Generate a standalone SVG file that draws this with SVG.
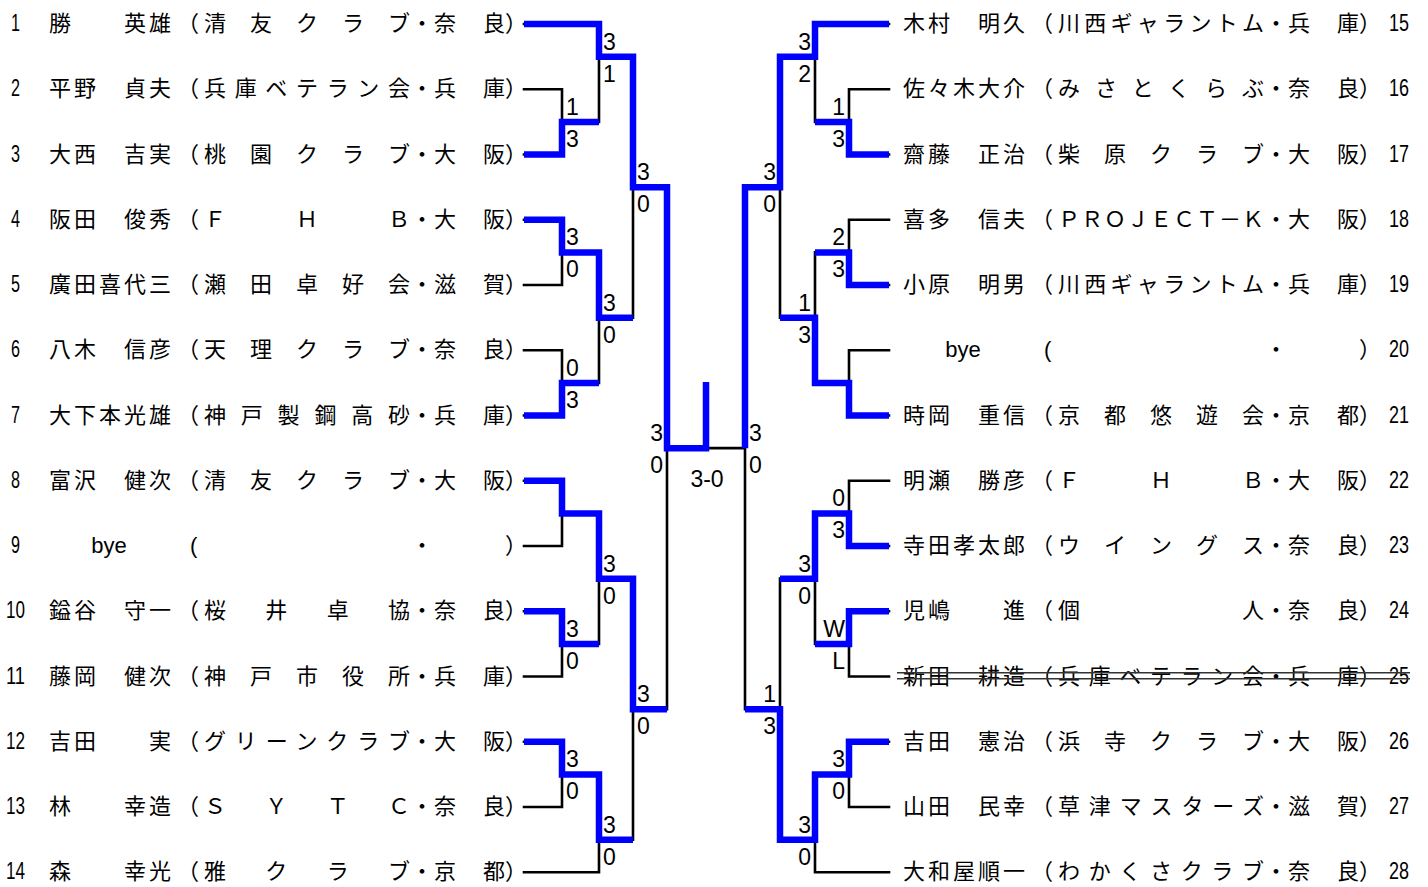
<svg xmlns="http://www.w3.org/2000/svg" width="1428" height="887" viewBox="0 0 1428 887">
<style>
.t{font-family:"Noto Sans CJK JP","Noto Sans CJK SC",sans-serif;font-size:22px;fill:#000}
.n{font-family:"Liberation Sans",Arial,sans-serif;font-size:24px;fill:#000}
.l{font-family:"Liberation Sans",Arial,sans-serif;font-size:22px;fill:#000}
.s{font-family:"Liberation Sans",Arial,sans-serif;font-size:23px;fill:#000}
.e{text-anchor:end}
.m{text-anchor:middle}
.bk{fill:none;stroke:#000;stroke-width:2.6;stroke-linecap:square}
.bl{fill:none;stroke:#0000ff;stroke-width:6.5;stroke-linejoin:miter}
.st{stroke:#333;stroke-width:1.4}
</style>
<rect width="1428" height="887" fill="#fff"/>
<g id="connectors">
<path class="bk" d="M524,24H599M524,89.25H562M524,154.5H562M524,219.75H562M524,285H562M524,350.25H562M524,415.5H562M524,480.75H562M524,546H562M524,611.25H562M524,676.5H562M524,741.75H562M524,807H562M524,872.25H599
M562,89.25V154.5M562,121.88H599M562,219.75V285M562,252.38H599M562,350.25V415.5M562,382.88H599M562,480.75V546M562,513.38H599M562,611.25V676.5M562,643.88H599M562,741.75V807M562,774.38H599
M599,24V121.88M599,56.63H633M599,252.38V382.88M599,317.63H633M599,513.38V643.88M599,578.63H633M599,774.38V872.25M599,839.63H633
M633,56.63V317.63M633,187.13H667M633,578.63V839.63M633,709.13H667
M667,187.13V709.13M667,448.13H745M745,187.13V709.13
M780,56.63V317.63M780,187.13H745M780,578.63V839.63M780,709.13H745
M815,24V121.88M815,56.63H780M815,252.38V382.88M815,317.63H780M815,513.38V643.88M815,578.63H780M815,774.38V872.25M815,839.63H780
M849,89.25V154.5M849,121.88H815M849,219.75V285M849,252.38H815M849,350.25V415.5M849,382.88H815M849,480.75V546M849,513.38H815M849,611.25V676.5M849,643.88H815M849,741.75V807M849,774.38H815
M889,24H815M889,89.25H849M889,154.5H849M889,219.75H849M889,285H849M889,350.25H849M889,415.5H849M889,480.75H849M889,546H849M889,611.25H849M889,676.5H849M889,741.75H849M889,807H849M889,872.25H815"/>
<path class="bl" d="M524,24H599V56.63H633V187.13H667V448.13H706V382"/>
<path class="bl" d="M524,154.5H562V121.88H599"/>
<path class="bl" d="M524,219.75H562V252.38H599V317.63H633"/>
<path class="bl" d="M524,415.5H562V382.88H599"/>
<path class="bl" d="M524,480.75H562V513.38H599V578.63H633V709.13H667"/>
<path class="bl" d="M524,611.25H562V643.88H599"/>
<path class="bl" d="M524,741.75H562V774.38H599V839.63H633"/>
<path class="bl" d="M889,24H815V56.63H780V187.13H745V448.13"/>
<path class="bl" d="M889,154.5H849V121.88H815"/>
<path class="bl" d="M889,285H849V252.38H815"/>
<path class="bl" d="M889,415.5H849V382.88H815V317.63H780"/>
<path class="bl" d="M889,546H849V513.38H815V578.63H780"/>
<path class="bl" d="M889,611.25H849V643.88H815"/>
<path class="bl" d="M889,741.75H849V774.38H815V839.63H780V709.13H745"/>
</g>
<g id="scores" class="s">
<text x="566" y="114.88">1</text><text x="566" y="146.88">3</text>
<text x="566" y="245.38">3</text><text x="566" y="277.38">0</text>
<text x="566" y="375.88">0</text><text x="566" y="407.88">3</text>
<text x="566" y="636.88">3</text><text x="566" y="668.88">0</text>
<text x="566" y="767.38">3</text><text x="566" y="799.38">0</text>
<text x="603" y="49.63">3</text><text x="603" y="81.63">1</text>
<text x="603" y="310.63">3</text><text x="603" y="342.63">0</text>
<text x="603" y="571.63">3</text><text x="603" y="603.63">0</text>
<text x="603" y="832.63">3</text><text x="603" y="864.63">0</text>
<text x="637" y="180.13">3</text><text x="637" y="212.13">0</text>
<text x="637" y="702.13">3</text><text x="637" y="734.13">0</text>
<text class="e" x="663" y="441.13">3</text><text class="e" x="663" y="473.13">0</text>
<text class="e" x="845" y="114.88">1</text><text class="e" x="845" y="146.88">3</text>
<text class="e" x="845" y="245.38">2</text><text class="e" x="845" y="277.38">3</text>
<text class="e" x="845" y="506.38">0</text><text class="e" x="845" y="538.38">3</text>
<text class="e" x="845" y="636.88">W</text><text class="e" x="845" y="668.88">L</text>
<text class="e" x="845" y="767.38">3</text><text class="e" x="845" y="799.38">0</text>
<text class="e" x="811" y="49.63">3</text><text class="e" x="811" y="81.63">2</text>
<text class="e" x="811" y="310.63">1</text><text class="e" x="811" y="342.63">3</text>
<text class="e" x="811" y="571.63">3</text><text class="e" x="811" y="603.63">0</text>
<text class="e" x="811" y="832.63">3</text><text class="e" x="811" y="864.63">0</text>
<text class="e" x="776" y="180.13">3</text><text class="e" x="776" y="212.13">0</text>
<text class="e" x="776" y="702.13">1</text><text class="e" x="776" y="734.13">3</text>
<text x="749" y="441.13">3</text><text x="749" y="473.13">0</text>
<text class="m" x="707" y="487">3-0</text>
</g>
<g id="p1"><text class="n m" x="15.5" y="31" textLength="9" lengthAdjust="spacingAndGlyphs">1</text><text class="t" x="49" y="31" textLength="122">勝　　英雄</text><text class="t" x="177" y="31">（</text><text class="t" x="204" y="31" textLength="206">清友クラブ</text><text class="t" x="411" y="31">・</text><text class="t" x="434" y="31" textLength="71">奈良</text><text class="t" x="505" y="31">）</text></g>
<g id="p2"><text class="n m" x="15.5" y="96.25" textLength="9" lengthAdjust="spacingAndGlyphs">2</text><text class="t" x="49" y="96.25" textLength="122">平野　貞夫</text><text class="t" x="177" y="96.25">（</text><text class="t" x="204" y="96.25" textLength="206">兵庫ベテラン会</text><text class="t" x="411" y="96.25">・</text><text class="t" x="434" y="96.25" textLength="71">兵庫</text><text class="t" x="505" y="96.25">）</text></g>
<g id="p3"><text class="n m" x="15.5" y="161.5" textLength="9" lengthAdjust="spacingAndGlyphs">3</text><text class="t" x="49" y="161.5" textLength="122">大西　吉実</text><text class="t" x="177" y="161.5">（</text><text class="t" x="204" y="161.5" textLength="206">桃園クラブ</text><text class="t" x="411" y="161.5">・</text><text class="t" x="434" y="161.5" textLength="71">大阪</text><text class="t" x="505" y="161.5">）</text></g>
<g id="p4"><text class="n m" x="15.5" y="226.75" textLength="9" lengthAdjust="spacingAndGlyphs">4</text><text class="t" x="49" y="226.75" textLength="122">阪田　俊秀</text><text class="t" x="177" y="226.75">（</text><text class="t" x="204" y="226.75" textLength="206">ＦＨＢ</text><text class="t" x="411" y="226.75">・</text><text class="t" x="434" y="226.75" textLength="71">大阪</text><text class="t" x="505" y="226.75">）</text></g>
<g id="p5"><text class="n m" x="15.5" y="292" textLength="9" lengthAdjust="spacingAndGlyphs">5</text><text class="t" x="49" y="292" textLength="122">廣田喜代三</text><text class="t" x="177" y="292">（</text><text class="t" x="204" y="292" textLength="206">瀬田卓好会</text><text class="t" x="411" y="292">・</text><text class="t" x="434" y="292" textLength="71">滋賀</text><text class="t" x="505" y="292">）</text></g>
<g id="p6"><text class="n m" x="15.5" y="357.25" textLength="9" lengthAdjust="spacingAndGlyphs">6</text><text class="t" x="49" y="357.25" textLength="122">八木　信彦</text><text class="t" x="177" y="357.25">（</text><text class="t" x="204" y="357.25" textLength="206">天理クラブ</text><text class="t" x="411" y="357.25">・</text><text class="t" x="434" y="357.25" textLength="71">奈良</text><text class="t" x="505" y="357.25">）</text></g>
<g id="p7"><text class="n m" x="15.5" y="422.5" textLength="9" lengthAdjust="spacingAndGlyphs">7</text><text class="t" x="49" y="422.5" textLength="122">大下本光雄</text><text class="t" x="177" y="422.5">（</text><text class="t" x="204" y="422.5" textLength="206">神戸製鋼高砂</text><text class="t" x="411" y="422.5">・</text><text class="t" x="434" y="422.5" textLength="71">兵庫</text><text class="t" x="505" y="422.5">）</text></g>
<g id="p8"><text class="n m" x="15.5" y="487.75" textLength="9" lengthAdjust="spacingAndGlyphs">8</text><text class="t" x="49" y="487.75" textLength="122">富沢　健次</text><text class="t" x="177" y="487.75">（</text><text class="t" x="204" y="487.75" textLength="206">清友クラブ</text><text class="t" x="411" y="487.75">・</text><text class="t" x="434" y="487.75" textLength="71">大阪</text><text class="t" x="505" y="487.75">）</text></g>
<g id="p9"><text class="n m" x="15.5" y="553" textLength="9" lengthAdjust="spacingAndGlyphs">9</text><text class="l m" x="109" y="553">bye</text><text class="l" x="190" y="553">(</text><text class="t" x="411" y="553">・</text><text class="t" x="505" y="553">）</text></g>
<g id="p10"><text class="n m" x="15.5" y="618.25" textLength="19" lengthAdjust="spacingAndGlyphs">10</text><text class="t" x="49" y="618.25" textLength="122">鎰谷　守一</text><text class="t" x="177" y="618.25">（</text><text class="t" x="204" y="618.25" textLength="206">桜井卓協</text><text class="t" x="411" y="618.25">・</text><text class="t" x="434" y="618.25" textLength="71">奈良</text><text class="t" x="505" y="618.25">）</text></g>
<g id="p11"><text class="n m" x="15.5" y="683.5" textLength="19" lengthAdjust="spacingAndGlyphs">11</text><text class="t" x="49" y="683.5" textLength="122">藤岡　健次</text><text class="t" x="177" y="683.5">（</text><text class="t" x="204" y="683.5" textLength="206">神戸市役所</text><text class="t" x="411" y="683.5">・</text><text class="t" x="434" y="683.5" textLength="71">兵庫</text><text class="t" x="505" y="683.5">）</text></g>
<g id="p12"><text class="n m" x="15.5" y="748.75" textLength="19" lengthAdjust="spacingAndGlyphs">12</text><text class="t" x="49" y="748.75" textLength="122">吉田　　実</text><text class="t" x="177" y="748.75">（</text><text class="t" x="204" y="748.75" textLength="206">グリーンクラブ</text><text class="t" x="411" y="748.75">・</text><text class="t" x="434" y="748.75" textLength="71">大阪</text><text class="t" x="505" y="748.75">）</text></g>
<g id="p13"><text class="n m" x="15.5" y="814" textLength="19" lengthAdjust="spacingAndGlyphs">13</text><text class="t" x="49" y="814" textLength="122">林　　幸造</text><text class="t" x="177" y="814">（</text><text class="t" x="204" y="814" textLength="206">ＳＹＴＣ</text><text class="t" x="411" y="814">・</text><text class="t" x="434" y="814" textLength="71">奈良</text><text class="t" x="505" y="814">）</text></g>
<g id="p14"><text class="n m" x="15.5" y="879.25" textLength="19" lengthAdjust="spacingAndGlyphs">14</text><text class="t" x="49" y="879.25" textLength="122">森　　幸光</text><text class="t" x="177" y="879.25">（</text><text class="t" x="204" y="879.25" textLength="206">雅クラブ</text><text class="t" x="411" y="879.25">・</text><text class="t" x="434" y="879.25" textLength="71">京都</text><text class="t" x="505" y="879.25">）</text></g>
<g id="p15"><text class="t" x="903" y="31" textLength="122">木村　明久</text><text class="t" x="1031" y="31">（</text><text class="t" x="1058" y="31" textLength="206">川西ギャラントム</text><text class="t" x="1265" y="31">・</text><text class="t" x="1288" y="31" textLength="71">兵庫</text><text class="t" x="1359" y="31">）</text><text class="n" x="1389" y="31" textLength="20" lengthAdjust="spacingAndGlyphs">15</text></g>
<g id="p16"><text class="t" x="903" y="96.25" textLength="122">佐々木大介</text><text class="t" x="1031" y="96.25">（</text><text class="t" x="1058" y="96.25" textLength="206">みさとくらぶ</text><text class="t" x="1265" y="96.25">・</text><text class="t" x="1288" y="96.25" textLength="71">奈良</text><text class="t" x="1359" y="96.25">）</text><text class="n" x="1389" y="96.25" textLength="20" lengthAdjust="spacingAndGlyphs">16</text></g>
<g id="p17"><text class="t" x="903" y="161.5" textLength="122">齋藤　正治</text><text class="t" x="1031" y="161.5">（</text><text class="t" x="1058" y="161.5" textLength="206">柴原クラブ</text><text class="t" x="1265" y="161.5">・</text><text class="t" x="1288" y="161.5" textLength="71">大阪</text><text class="t" x="1359" y="161.5">）</text><text class="n" x="1389" y="161.5" textLength="20" lengthAdjust="spacingAndGlyphs">17</text></g>
<g id="p18"><text class="t" x="903" y="226.75" textLength="122">喜多　信夫</text><text class="t" x="1031" y="226.75">（</text><text class="t" x="1058" y="226.75" textLength="206">ＰＲＯＪＥＣＴ－Ｋ</text><text class="t" x="1265" y="226.75">・</text><text class="t" x="1288" y="226.75" textLength="71">大阪</text><text class="t" x="1359" y="226.75">）</text><text class="n" x="1389" y="226.75" textLength="20" lengthAdjust="spacingAndGlyphs">18</text></g>
<g id="p19"><text class="t" x="903" y="292" textLength="122">小原　明男</text><text class="t" x="1031" y="292">（</text><text class="t" x="1058" y="292" textLength="206">川西ギャラントム</text><text class="t" x="1265" y="292">・</text><text class="t" x="1288" y="292" textLength="71">兵庫</text><text class="t" x="1359" y="292">）</text><text class="n" x="1389" y="292" textLength="20" lengthAdjust="spacingAndGlyphs">19</text></g>
<g id="p20"><text class="l m" x="963" y="357.25">bye</text><text class="l" x="1044" y="357.25">(</text><text class="t" x="1265" y="357.25">・</text><text class="t" x="1359" y="357.25">）</text><text class="n" x="1389" y="357.25" textLength="20" lengthAdjust="spacingAndGlyphs">20</text></g>
<g id="p21"><text class="t" x="903" y="422.5" textLength="122">時岡　重信</text><text class="t" x="1031" y="422.5">（</text><text class="t" x="1058" y="422.5" textLength="206">京都悠遊会</text><text class="t" x="1265" y="422.5">・</text><text class="t" x="1288" y="422.5" textLength="71">京都</text><text class="t" x="1359" y="422.5">）</text><text class="n" x="1389" y="422.5" textLength="20" lengthAdjust="spacingAndGlyphs">21</text></g>
<g id="p22"><text class="t" x="903" y="487.75" textLength="122">明瀬　勝彦</text><text class="t" x="1031" y="487.75">（</text><text class="t" x="1058" y="487.75" textLength="206">ＦＨＢ</text><text class="t" x="1265" y="487.75">・</text><text class="t" x="1288" y="487.75" textLength="71">大阪</text><text class="t" x="1359" y="487.75">）</text><text class="n" x="1389" y="487.75" textLength="20" lengthAdjust="spacingAndGlyphs">22</text></g>
<g id="p23"><text class="t" x="903" y="553" textLength="122">寺田孝太郎</text><text class="t" x="1031" y="553">（</text><text class="t" x="1058" y="553" textLength="206">ウイングス</text><text class="t" x="1265" y="553">・</text><text class="t" x="1288" y="553" textLength="71">奈良</text><text class="t" x="1359" y="553">）</text><text class="n" x="1389" y="553" textLength="20" lengthAdjust="spacingAndGlyphs">23</text></g>
<g id="p24"><text class="t" x="903" y="618.25" textLength="122">児嶋　　進</text><text class="t" x="1031" y="618.25">（</text><text class="t" x="1058" y="618.25" textLength="206">個人</text><text class="t" x="1265" y="618.25">・</text><text class="t" x="1288" y="618.25" textLength="71">奈良</text><text class="t" x="1359" y="618.25">）</text><text class="n" x="1389" y="618.25" textLength="20" lengthAdjust="spacingAndGlyphs">24</text></g>
<g id="p25"><text class="t" x="903" y="683.5" textLength="122">新田　耕造</text><text class="t" x="1031" y="683.5">（</text><text class="t" x="1058" y="683.5" textLength="206">兵庫ベテラン会</text><text class="t" x="1265" y="683.5">・</text><text class="t" x="1288" y="683.5" textLength="71">兵庫</text><text class="t" x="1359" y="683.5">）</text><text class="n" x="1389" y="683.5" textLength="20" lengthAdjust="spacingAndGlyphs">25</text><path class="st" d="M897,672.8H1410M897,678.8H1410"/></g>
<g id="p26"><text class="t" x="903" y="748.75" textLength="122">吉田　憲治</text><text class="t" x="1031" y="748.75">（</text><text class="t" x="1058" y="748.75" textLength="206">浜寺クラブ</text><text class="t" x="1265" y="748.75">・</text><text class="t" x="1288" y="748.75" textLength="71">大阪</text><text class="t" x="1359" y="748.75">）</text><text class="n" x="1389" y="748.75" textLength="20" lengthAdjust="spacingAndGlyphs">26</text></g>
<g id="p27"><text class="t" x="903" y="814" textLength="122">山田　民幸</text><text class="t" x="1031" y="814">（</text><text class="t" x="1058" y="814" textLength="206">草津マスターズ</text><text class="t" x="1265" y="814">・</text><text class="t" x="1288" y="814" textLength="71">滋賀</text><text class="t" x="1359" y="814">）</text><text class="n" x="1389" y="814" textLength="20" lengthAdjust="spacingAndGlyphs">27</text></g>
<g id="p28"><text class="t" x="903" y="879.25" textLength="122">大和屋順一</text><text class="t" x="1031" y="879.25">（</text><text class="t" x="1058" y="879.25" textLength="206">わかくさクラブ</text><text class="t" x="1265" y="879.25">・</text><text class="t" x="1288" y="879.25" textLength="71">奈良</text><text class="t" x="1359" y="879.25">）</text><text class="n" x="1389" y="879.25" textLength="20" lengthAdjust="spacingAndGlyphs">28</text></g>
</svg>
